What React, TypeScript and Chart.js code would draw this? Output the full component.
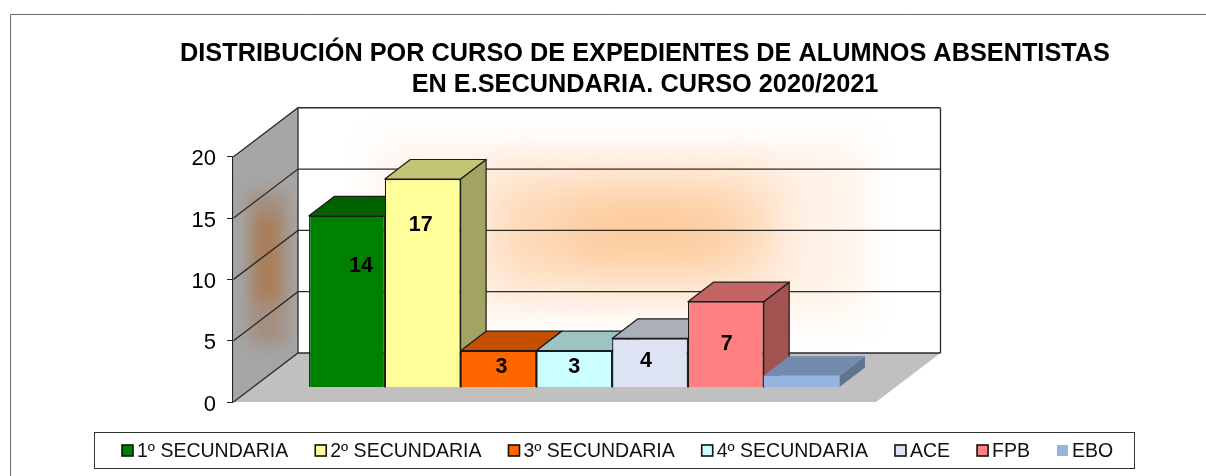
import React, { useEffect, useRef } from "react";
import { Chart, registerables } from "chart.js";

Chart.register(...registerables);

const titleLines = [
  "DISTRIBUCIÓN POR CURSO DE EXPEDIENTES DE ALUMNOS ABSENTISTAS",
  "EN E.SECUNDARIA. CURSO 2020/2021",
];
const categories = [""];
const seriesNames = ["1º SECUNDARIA", "2º SECUNDARIA", "3º SECUNDARIA", "4º SECUNDARIA", "ACE", "FPB", "EBO"];
const seriesValues = [14, 17, 3, 3, 4, 7, 0.95];
const valueLabels = ["14", "17", "3", "3", "4", "7", ""];
const seriesColors = ["#008000", "#FFFF99", "#FF6600", "#CCFFFF", "#DDE3F2", "#FF8080", "#95B5E0"];
const outlined = [true, true, true, true, true, true, false];

// Hand-placed label nudges from the reference: [dx from bar centre, dy from bar top]
const labelNudges = [[14, 50], [-2, 46], [3, 16], [0, 16], [-4, 23], [1, 42], [0, 0]];

const FONT = '"Liberation Sans", Arial, sans-serif';
const LINE = "#2b2b2b";

// 3D projection
const WALL_DX = 64.5;
const WALL_DY = -49;
const BAR_SHIFT_X = 19.75;
const BAR_SHIFT_Y = -14.5;
const BAR_DX = 25.5;
const BAR_DY = -19.5;

function shade(hex: string, f: number) {
  const n = parseInt(hex.slice(1), 16);
  const r = Math.round(((n >> 16) & 255) * f);
  const g = Math.round(((n >> 8) & 255) * f);
  const b = Math.round((n & 255) * f);
  return `rgb(${r},${g},${b})`;
}

function poly(ctx: CanvasRenderingContext2D, pts: number[][]) {
  ctx.beginPath();
  pts.forEach((p, i) => (i ? ctx.lineTo(p[0], p[1]) : ctx.moveTo(p[0], p[1])));
  ctx.closePath();
}

// soft-edged rectangle used for the picture fill on the walls
function softRect(
  ctx: CanvasRenderingContext2D,
  x0: number,
  y0: number,
  x1: number,
  y1: number,
  color: string,
  blur: number
) {
  ctx.save();
  ctx.filter = `blur(${blur}px)`;
  ctx.fillStyle = color;
  ctx.fillRect(x0, y0, x1 - x0, y1 - y0);
  ctx.restore();
}

const stagePlugin = {
  id: "stage",
  afterLayout(chart: any) {
    chart.titleBlock.left = 84;
    chart.titleBlock.right = 1206;
  },
  beforeDraw(chart: any) {
    const { ctx, chartArea: a } = chart;
    const yScale = chart.scales.y;
    const L = a.left + 0.5;
    const R = a.right;
    const T = yScale.getPixelForValue(20);
    const B = yScale.getPixelForValue(0);

    ctx.save();
    // outer frame
    ctx.strokeStyle = "#6a6a6a";
    ctx.lineWidth = 1;
    ctx.beginPath();
    ctx.moveTo(10.5, 476);
    ctx.lineTo(10.5, 14.5);
    ctx.lineTo(1206, 14.5);
    ctx.stroke();

    // floor
    poly(ctx, [[L, B], [R, B], [R + WALL_DX, B + WALL_DY], [L + WALL_DX, B + WALL_DY]]);
    ctx.fillStyle = "#C0C0C0";
    ctx.fill();

    // back wall
    ctx.save();
    poly(ctx, [[L + WALL_DX, T + WALL_DY], [R + WALL_DX, T + WALL_DY], [R + WALL_DX, B + WALL_DY], [L + WALL_DX, B + WALL_DY]]);
    ctx.fillStyle = "#fff";
    ctx.fill();
    ctx.clip();
    softRect(ctx, 375, 145, 865, 315, "rgb(255,243,233)", 18);
    softRect(ctx, 490, 178, 775, 282, "rgb(254,216,180)", 24);
    softRect(ctx, 570, 205, 720, 255, "rgb(252,201,153)", 22);
    ctx.restore();

    // side wall
    ctx.save();
    poly(ctx, [[L, T], [L + WALL_DX, T + WALL_DY], [L + WALL_DX, B + WALL_DY], [L, B]]);
    ctx.fillStyle = "#A6A6A6";
    ctx.fill();
    ctx.clip();
    softRect(ctx, 248, 192, 287, 345, "rgb(164,143,128)", 8);
    softRect(ctx, 256, 215, 278, 300, "rgb(170,124,84)", 8);
    ctx.restore();

    // gridlines across both walls
    ctx.strokeStyle = LINE;
    ctx.lineWidth = 1.3;
    yScale.ticks.forEach((t: any) => {
      const y = yScale.getPixelForValue(t.value);
      ctx.beginPath();
      ctx.moveTo(L, y);
      ctx.lineTo(L + WALL_DX, y + WALL_DY);
      ctx.lineTo(R + WALL_DX, y + WALL_DY);
      ctx.stroke();
    });
    // wall edges
    ctx.beginPath();
    ctx.moveTo(L + WALL_DX, T + WALL_DY);
    ctx.lineTo(L + WALL_DX, B + WALL_DY);
    ctx.moveTo(R + WALL_DX, T + WALL_DY);
    ctx.lineTo(R + WALL_DX, B + WALL_DY);
    ctx.stroke();
    ctx.restore();
  },
  beforeDatasetsDraw(chart: any) {
    const { ctx } = chart;
    ctx.save();
    ctx.translate(BAR_SHIFT_X, BAR_SHIFT_Y);
    // side and top faces, left to right, so each bar overlaps its left neighbour
    seriesValues.forEach((_, i) => {
      const bar = chart.getDatasetMeta(i).data[0];
      const x0 = bar.x - bar.width / 2;
      const x1 = bar.x + bar.width / 2;
      const top = bar.y;
      const base = bar.base;
      const c = seriesColors[i];
      ctx.lineJoin = "round";
      ctx.lineWidth = 1.2;
      ctx.strokeStyle = outlined[i] ? "#1a1a1a" : "transparent";
      poly(ctx, [[x1, top], [x1 + BAR_DX, top + BAR_DY], [x1 + BAR_DX, base + BAR_DY], [x1, base]]);
      ctx.fillStyle = shade(c, 0.64);
      ctx.fill();
      ctx.stroke();
      poly(ctx, [[x0, top], [x1, top], [x1 + BAR_DX, top + BAR_DY], [x0 + BAR_DX, top + BAR_DY]]);
      ctx.fillStyle = shade(c, 0.77);
      ctx.fill();
      ctx.stroke();
    });
  },
  afterDatasetsDraw(chart: any) {
    const { ctx } = chart;
    ctx.restore();
    ctx.save();
    ctx.fillStyle = "#000";
    ctx.font = `bold 21.5px ${FONT}`;
    ctx.textAlign = "center";
    ctx.textBaseline = "middle";
    valueLabels.forEach((text, i) => {
      if (!text) return;
      const bar = chart.getDatasetMeta(i).data[0];
      const x = bar.x + BAR_SHIFT_X + labelNudges[i][0];
      const y = bar.y + BAR_SHIFT_Y + labelNudges[i][1];
      ctx.fillText(text, x, y);
    });
    ctx.restore();
  },
  afterDraw(chart: any) {
    const { ctx } = chart;
    ctx.save();
    // legend panel
    ctx.strokeStyle = "#333";
    ctx.lineWidth = 1;
    ctx.strokeRect(94.5, 432.5, 1040, 36);
    ctx.font = `19.5px ${FONT}`;
    ctx.textBaseline = "middle";
    ctx.textAlign = "left";
    let x = 122;
    seriesNames.forEach((name, i) => {
      ctx.fillStyle = seriesColors[i];
      ctx.fillRect(x, 445, 11, 11);
      if (outlined[i]) {
        ctx.strokeStyle = "#111";
        ctx.lineWidth = 1.6;
        ctx.strokeRect(x, 445, 11, 11);
      }
      ctx.fillStyle = "#111";
      ctx.fillText(name, x + 15, 452);
      x += 15 + ctx.measureText(name).width + 27;
    });
    ctx.restore();
  },
};

export default function App() {
  const ref = useRef<HTMLCanvasElement>(null);
  useEffect(() => {
    document.body.style.margin = "0";
    const chart = new Chart(ref.current!, {
      type: "bar",
      data: {
        labels: categories,
        datasets: seriesNames.map((name, i) => ({
          label: name,
          data: [seriesValues[i]],
          backgroundColor: seriesColors[i],
          borderColor: outlined[i] ? "#1a1a1a" : seriesColors[i],
          borderWidth: outlined[i] ? 1.2 : 0,
          categoryPercentage: 530 / 642.5,
          barPercentage: 1,
          clip: false as any,
        })),
      },
      options: {
        responsive: false,
        animation: false,
        devicePixelRatio: 1,
        layout: { padding: { left: 10, top: 39, right: 330, bottom: 74 } },
        plugins: {
          legend: { display: false },
          tooltip: { enabled: false },
          title: {
            display: true,
            text: titleLines,
            color: "#000",
            font: { family: FONT, size: 25.3, weight: "bold", lineHeight: 1.22 },
            padding: { top: 0, bottom: 56 },
          },
        },
        scales: {
          x: { display: false, grid: { display: false } },
          y: {
            min: 0,
            max: 20,
            ticks: {
              stepSize: 5,
              color: "#000",
              padding: 11,
              labelOffset: 2.5,
              font: { family: FONT, size: 22 },
            },
            grid: { drawOnChartArea: false, drawTicks: true, tickLength: 6, color: "#222", lineWidth: 1 },
            border: { display: true, color: "#222", width: 1.3 },
            afterFit(s: any) {
              s.width = 223;
            },
          },
        },
      },
      plugins: [stagePlugin],
    } as any);
    return () => chart.destroy();
  }, []);
  return <canvas ref={ref} width={1206} height={476} style={{ display: "block" }} />;
}
